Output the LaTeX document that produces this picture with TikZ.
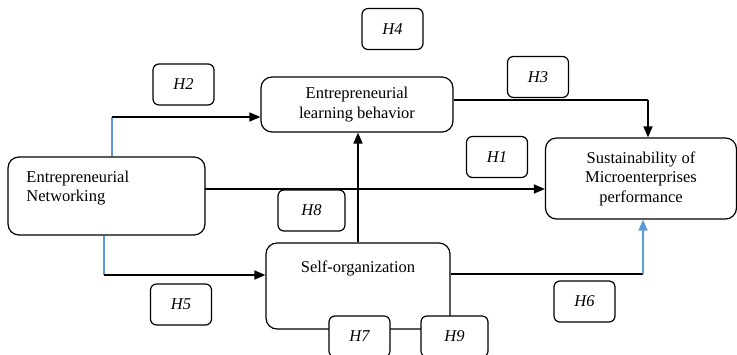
\documentclass[tikz,border=0pt]{standalone}
\usepackage{fontspec}
\setmainfont{Liberation Serif}
\usetikzlibrary{arrows.meta}
\definecolor{linkblue}{RGB}{91,155,213}
\begin{document}
\begin{tikzpicture}[x=1pt,y=-1pt,
    every node/.style={font=\fontsize{16.5}{19.5}\selectfont},
    varbox/.style={draw,line width=1.2pt,rounded corners=11pt,fill=white},
    hypbox/.style={draw,line width=1.2pt,rounded corners=6pt,fill=white,
        minimum width=61pt,minimum height=41pt,inner sep=0pt,font=\fontsize{16.5}{19.5}\selectfont\itshape},
    arr/.style={line width=1.6pt,-{Triangle[length=11pt,width=9pt]}},
    thin/.style={line width=1.2pt}]
    \useasboundingbox (0,0) rectangle (737,355);
    % variables
    \node [varbox,minimum width=197pt,minimum height=78pt,text width=160pt,inner xsep=18.5pt,align=left]
        (EN) at (106.5,196) {Entrepreneurial\\Networking\\~};
    \node [varbox,minimum width=192pt,minimum height=55pt,align=center]
        (ELB) at (357,104.5) {Entrepreneurial\\learning behavior};
    \node [varbox,minimum width=184pt,minimum height=86pt,align=center]
        (SO) at (358,286) {Self-organization\\~\\~};
    \node [varbox,minimum width=191pt,minimum height=81pt,align=center]
        (SMP) at (641,178.5) {Sustainability of\\Microenterprises\\performance};
    % bend points
    \coordinate (b2) at (112,117);
    \coordinate (b5) at (104,275);
    \coordinate (c1) at (205,189);
    \coordinate (c3) at (648,100);
    \coordinate (c6) at (643,274);
    % connectors
    \draw [linkblue,thin] (EN.north -| b2) -- (b2);
    \draw [arr] (b2) -- (b2 -| ELB.west);
    \draw [linkblue,thin] (EN.south -| b5) -- (b5);
    \draw [arr] (b5) -- (b5 -| SO.west);
    \draw [arr] (c1) -- (c1 -| SMP.west);
    \draw [thin] (c3 -| ELB.east) -- (c3);
    \draw [arr] (c3) -- (c3 |- SMP.north);
    \draw [arr] (SO.north) -- (SO.north |- ELB.south);
    \draw [thin] (c6 -| SO.east) -- (c6);
    \draw [arr,linkblue] (c6) -- (c6 |- SMP.south);
    % hypotheses
    \node [hypbox] (H1) at (497,157) {H1};
    \node [hypbox] (H2) at (183.5,84.5) {H2};
    \node [hypbox] (H3) at (538,77) {H3};
    \node [hypbox] (H4) at (392.5,29) {H4};
    \node [hypbox] (H5) at (181,304.5) {H5};
    \node [hypbox] (H6) at (584.5,301.5) {H6};
    \node [hypbox] (H7) at (359.5,336.5) {H7};
    \node [hypbox,minimum width=67pt] (H8) at (311.5,210.5) {H8};
    \node [hypbox,minimum width=67pt] (H9) at (454.5,336.5) {H9};
\end{tikzpicture}
\end{document}
